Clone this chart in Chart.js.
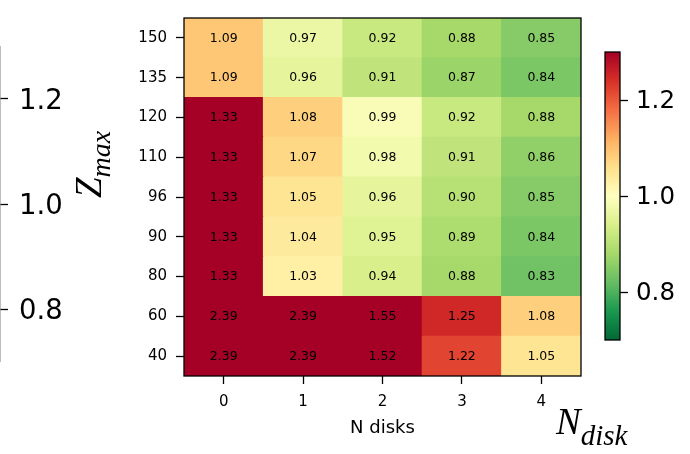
<!DOCTYPE html>
<html><head><meta charset="utf-8">
<script src="https://cdn.jsdelivr.net/npm/chart.js@4.4.1/dist/chart.umd.min.js"></script>
<style>
html,body{margin:0;padding:0;background:#fff;}
#wrap{position:relative;width:690px;height:454px;overflow:hidden;background:#fff;}
canvas{position:absolute;top:0;}
.lab{position:absolute;font-family:"Liberation Serif","DejaVu Serif",serif;font-style:italic;color:#000;white-space:nowrap;line-height:1;font-size:37px;}
</style></head><body>
<div id="wrap">
<canvas id="main" width="690" height="454" style="left:0"></canvas>
<canvas id="cbR" width="690" height="454" style="left:0"></canvas>
<canvas id="cbL" width="730" height="454" style="left:-40px"></canvas>
<div class="lab" style="left:70px;top:198px;transform:rotate(-90deg);transform-origin:0 0;"><span>Z</span><span style="font-size:28px;position:relative;top:9px;">max</span></div>
<div class="lab" style="left:556px;top:403px;"><span>N</span><span style="font-size:29px;position:relative;top:11px;">disk</span></div>
</div>
<script>
// ---- data ----
const nDisks = ['0', '1', '2', '3', '4'];
const zMaxLabels = ['40', '60', '80', '90', '96', '110', '120', '135', '150']; // bottom -> top
const z40  = [2.39, 2.39, 1.52, 1.22, 1.05];
const z60  = [2.39, 2.39, 1.55, 1.25, 1.08];
const z80  = [1.33, 1.03, 0.94, 0.88, 0.83];
const z90  = [1.33, 1.04, 0.95, 0.89, 0.84];
const z96  = [1.33, 1.05, 0.96, 0.90, 0.85];
const z110 = [1.33, 1.07, 0.98, 0.91, 0.86];
const z120 = [1.33, 1.08, 0.99, 0.92, 0.88];
const z135 = [1.09, 0.96, 0.91, 0.87, 0.84];
const z150 = [1.09, 0.97, 0.92, 0.88, 0.85];
const colorbarTicks = [0.8, 1.0, 1.2];
const vMin = 0.7, vMax = 1.3;

const rows = [z40, z60, z80, z90, z96, z110, z120, z135, z150];

// RdYlGn anchors; reversed for RdYlGn_r
const rdylgn = ['#a50026','#d73027','#f46d43','#fdae61','#fee08b','#ffffbf','#d9ef8b','#a6d96a','#66bd63','#1a9850','#006837'];
const rgb = rdylgn.map(h => [parseInt(h.slice(1,3),16), parseInt(h.slice(3,5),16), parseInt(h.slice(5,7),16)]);
function cmap(v) {
  let t = (v - vMin) / (vMax - vMin);
  t = Math.max(0, Math.min(1, t));
  const s = (1 - t) * 10;
  const i = Math.min(9, Math.floor(s));
  const f = s - i;
  const a = rgb[i], b = rgb[i + 1];
  const c = a.map((x, k) => Math.round(x + (b[k] - x) * f));
  return 'rgb(' + c.join(',') + ')';
}

const cellText = {
  id: 'cellText',
  afterDatasetsDraw(chart) {
    const ctx = chart.ctx;
    ctx.save();
    ctx.fillStyle = '#000';
    ctx.font = '12.5px "DejaVu Sans"';
    ctx.textAlign = 'center';
    ctx.textBaseline = 'middle';
    chart.data.datasets.forEach((ds, di) => {
      chart.getDatasetMeta(di).data.forEach((el, j) => {
        ctx.fillText(ds.values[j].toFixed(2), el.x, (el.y + el.base) / 2 + 0.5);
      });
    });
    ctx.restore();
  }
};
const frame = {
  id: 'frame',
  afterDraw(chart) {
    const {ctx, chartArea: a} = chart;
    ctx.save();
    ctx.strokeStyle = '#000';
    ctx.lineWidth = 1.3;
    ctx.strokeRect(a.left, a.top, a.right - a.left, a.bottom - a.top);
    ctx.restore();
  }
};

const tickFont = {family: 'DejaVu Sans', size: 15};
new Chart(document.getElementById('main'), {
  type: 'bar',
  data: {
    labels: nDisks,
    datasets: rows.map((vals, r) => ({
      data: vals.map(() => [r, r + 1]),
      values: vals,
      backgroundColor: vals.map(cmap),
      borderWidth: 0,
      borderSkipped: false,
      grouped: false,
      barPercentage: 1,
      categoryPercentage: 1,
      inflateAmount: 0.5
    }))
  },
  options: {
    responsive: false, animation: false, devicePixelRatio: 1,
    layout: {padding: {left: 0, top: 16, right: 109, bottom: 0}},
    plugins: {legend: {display: false}, tooltip: {enabled: false}},
    scales: {
      x: {
        type: 'category', offset: true,
        grid: {display: true, offset: false, drawOnChartArea: false, drawTicks: true, tickLength: 8, tickWidth: 1.3, tickColor: '#000', color: '#000'},
        border: {display: false},
        ticks: {color: '#000', font: tickFont, padding: 9, maxRotation: 0},
        title: {display: true, text: 'N disks', color: '#000', font: {family: 'DejaVu Sans', size: 18}, padding: {top: 0, bottom: 15}},
        afterFit(s) { s.height = 78; }
      },
      y: {
        type: 'linear', min: 0, max: 9,
        afterBuildTicks(s) { s.ticks = zMaxLabels.map((_, i) => ({value: i + 0.5})); },
        grid: {display: true, drawOnChartArea: false, drawTicks: true, tickLength: 8, tickWidth: 1.3, tickColor: '#000', color: '#000'},
        border: {display: false},
        ticks: {autoSkip: false, color: '#000', font: tickFont, padding: 9, callback: (v) => zMaxLabels[Math.floor(v)]},
        afterFit(s) { s.width = 184; }
      }
    }
  },
  plugins: [cellText, frame]
});

function cbPlugin(strokeColor, sides) {
  return {
    id: 'cbfill',
    beforeDatasetsDraw(chart) {
      const {ctx, chartArea: a, scales: {y}} = chart;
      const y0 = y.getPixelForValue(vMin), y1 = y.getPixelForValue(vMax);
      const g = ctx.createLinearGradient(0, y0, 0, y1);
      for (let i = 0; i <= 30; i++) {
        const v = vMin + (vMax - vMin) * i / 30;
        g.addColorStop(i / 30, cmap(v));
      }
      ctx.save();
      ctx.fillStyle = g;
      ctx.fillRect(a.left, a.top, a.right - a.left, a.bottom - a.top);
      ctx.strokeStyle = strokeColor;
      ctx.lineWidth = 1.3;
      if (sides === 'all') {
        ctx.strokeRect(a.left, a.top, a.right - a.left, a.bottom - a.top);
      } else {
        ctx.beginPath();
        ctx.moveTo(a.right, a.top);
        ctx.lineTo(a.right, a.bottom);
        ctx.stroke();
      }
      ctx.restore();
    }
  };
}

function makeCb(id, pad, axisWidth, fontSize, tickLen, tickPad, labelOff, stroke, sides) {
  new Chart(document.getElementById(id), {
    type: 'scatter',
    data: {datasets: [{data: []}]},
    options: {
      responsive: false, animation: false, devicePixelRatio: 1,
      layout: {padding: pad},
      plugins: {legend: {display: false}, tooltip: {enabled: false}},
      scales: {
        x: {display: false, min: 0, max: 1},
        y: {
          position: 'right', min: vMin, max: vMax,
          afterBuildTicks(s) { s.ticks = colorbarTicks.map(v => ({value: v})); },
          grid: {display: true, drawOnChartArea: false, drawTicks: true, tickLength: tickLen, tickWidth: 1.3, tickColor: '#000', color: '#000'},
          border: {display: false},
          ticks: {color: '#000', font: {family: 'DejaVu Sans', size: fontSize}, padding: tickPad, labelOffset: labelOff, callback: v => v.toFixed(1)},
          afterFit(s) { s.width = axisWidth; }
        }
      }
    },
    plugins: [cbPlugin(stroke, sides)]
  });
}
makeCb('cbR', {left: 605, top: 52, right: 0, bottom: 114}, 70, 24.5, 8, 8, 2, '#000', 'all');
makeCb('cbL', {left: 20, top: 46, right: 0, bottom: 92}, 690, 27.5, 8, 11, 3, '#999', 'right');
</script>
</body></html>
